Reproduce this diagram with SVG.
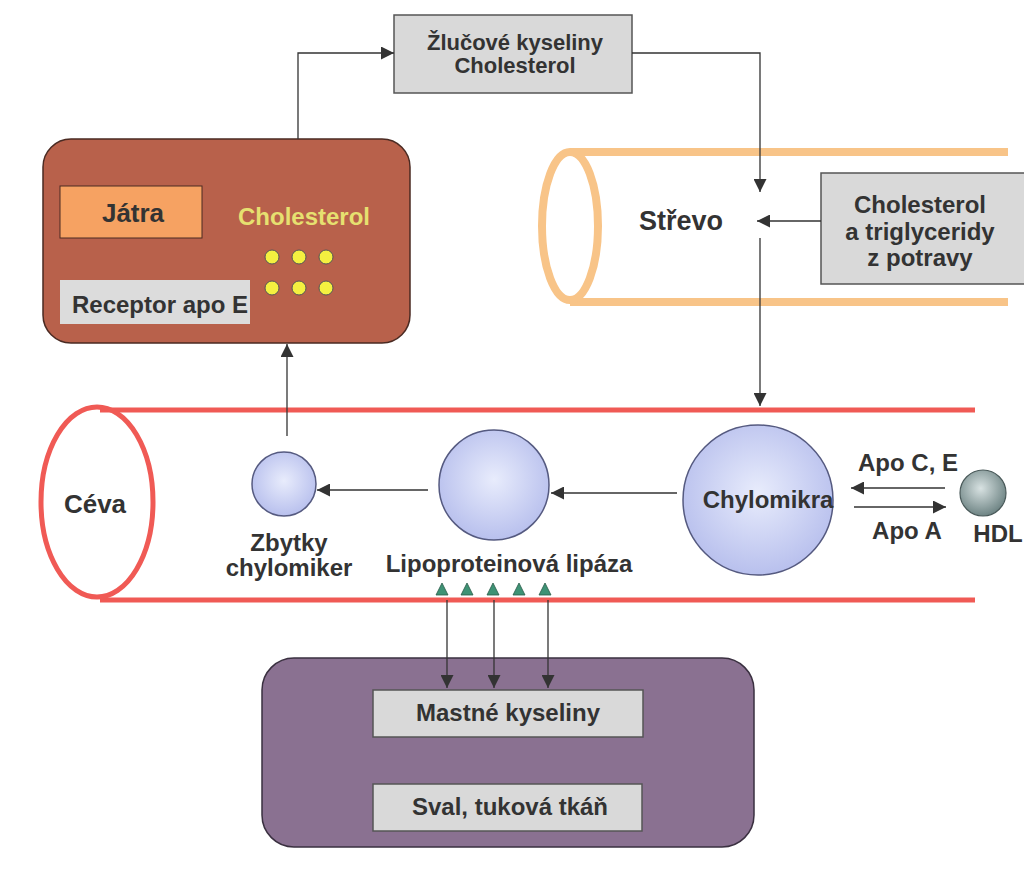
<svg xmlns="http://www.w3.org/2000/svg" width="1024" height="869" viewBox="0 0 1024 869">
<defs>
<style>
text{font-family:"Liberation Sans",Arial,sans-serif;font-weight:bold;fill:#333;font-size:24px;text-anchor:middle}
.conn{stroke:#333;stroke-width:1.3;fill:none}
.gbox{fill:#d9d9d9;stroke:#555;stroke-width:1.5}
.tube{fill:none;stroke:#f8c488;stroke-width:8}
.vessel{fill:none;stroke:#f05a55;stroke-width:5}
.ball{fill:url(#blue);stroke:#555a80;stroke-width:1.5}
.dot{fill:#f4f040;stroke:#555;stroke-width:1}
.tri{fill:#3e9275;stroke:#2a5a48;stroke-width:0.8}
</style>
<radialGradient id="blue" cx="0.5" cy="0.45" r="0.6"><stop offset="0" stop-color="#e8ecfc"/><stop offset="1" stop-color="#b4bcec"/></radialGradient>
<radialGradient id="hdl" cx="0.45" cy="0.4" r="0.6"><stop offset="0" stop-color="#d8e2e2"/><stop offset="1" stop-color="#6e8484"/></radialGradient>
<marker id="ah" viewBox="0 0 10 10" refX="10" refY="5" markerWidth="15" markerHeight="13" markerUnits="userSpaceOnUse" orient="auto"><path d="M0,0 L10,5 L0,10 z" fill="#333"/></marker>
</defs>
<rect width="1024" height="869" fill="#fff"/>

<g id="intestine">
<line class="tube" x1="570" y1="152" x2="1008" y2="152"/>
<line class="tube" x1="570" y1="302" x2="1008" y2="302"/>
<ellipse class="tube" cx="570" cy="226" rx="28" ry="74" fill="#fff"/>
<text x="681" y="230" style="font-size:27px">Střevo</text>
</g>

<g id="vessel">
<line class="vessel" x1="100" y1="410" x2="975" y2="410"/>
<line class="vessel" x1="100" y1="600" x2="975" y2="600"/>
<ellipse class="vessel" cx="97" cy="502" rx="56" ry="95" fill="#fff"/>
<text x="95" y="513" style="font-size:26px">Céva</text>
</g>

<g id="liver">
<rect x="43" y="139" width="367" height="204" rx="28" fill="#b8614b" stroke="#4a2a22" stroke-width="1.5"/>
<rect x="60" y="186" width="142" height="52" fill="#f6a262" stroke="#4a2a22" stroke-width="1"/>
<text x="133" y="222" style="font-size:26px">Játra</text>
<rect x="60" y="280" width="190" height="44" fill="#dcdcdc"/>
<text x="160" y="313">Receptor apo E</text>
<text x="304" y="225" style="fill:#e6e070">Cholesterol</text>
<circle class="dot" cx="272" cy="257" r="7"/><circle class="dot" cx="299" cy="257" r="7"/><circle class="dot" cx="326" cy="257" r="7"/>
<circle class="dot" cx="272" cy="288" r="7"/><circle class="dot" cx="299" cy="288" r="7"/><circle class="dot" cx="326" cy="288" r="7"/>
</g>

<g id="bile">
<rect class="gbox" x="394" y="15" width="238" height="78"/>
<text x="515" y="50" style="font-size:22px">Žlučové kyseliny</text>
<text x="515" y="73" style="font-size:22px">Cholesterol</text>
</g>

<g id="food">
<rect class="gbox" x="821" y="173" width="210" height="111"/>
<text x="920" y="213">Cholesterol</text>
<text x="920" y="240">a triglyceridy</text>
<text x="920" y="266">z potravy</text>
</g>

<g id="chylomicron">
<circle class="ball" cx="758" cy="500" r="75"/>
<text x="768" y="508">Chylomikra</text>
</g>
<g id="lipo">
<circle class="ball" cx="494" cy="485" r="55"/>
<text x="509" y="572">Lipoproteinová lipáza</text>
<path class="tri" d="M436,595 L442,583 L448,595 z"/>
<path class="tri" d="M461,595 L467,583 L473,595 z"/>
<path class="tri" d="M487,595 L493,583 L499,595 z"/>
<path class="tri" d="M513,595 L519,583 L525,595 z"/>
<path class="tri" d="M539,595 L545,583 L551,595 z"/>
</g>
<g id="remnant">
<circle class="ball" cx="284" cy="484" r="32"/>
<text x="289" y="551">Zbytky</text>
<text x="289" y="576">chylomiker</text>
</g>
<g id="hdl-node">
<circle cx="983" cy="493" r="23" fill="url(#hdl)" stroke="#4a5a5a" stroke-width="1.2"/>
<text x="998" y="542">HDL</text>
</g>
<g id="tissue">
<rect x="262" y="658" width="492" height="189" rx="32" fill="#8a7191" stroke="#3a3040" stroke-width="1.5"/>
<rect class="gbox" x="373" y="690" width="270" height="47"/>
<text x="508" y="721">Mastné kyseliny</text>
<rect class="gbox" x="373" y="784" width="269" height="47"/>
<text x="510" y="815">Sval, tuková tkáň</text>
</g>

<g id="connectors">
<polyline class="conn" points="298,139 298,53 394,53" marker-end="url(#ah)"/>
<polyline class="conn" points="632,53 760,53 760,192" marker-end="url(#ah)"/>
<line class="conn" x1="821" y1="221" x2="757" y2="221" marker-end="url(#ah)"/>
<line class="conn" x1="760" y1="238" x2="760" y2="406" marker-end="url(#ah)"/>
<line class="conn" x1="677" y1="493" x2="551" y2="493" marker-end="url(#ah)"/>
<line class="conn" x1="428" y1="490" x2="317" y2="490" marker-end="url(#ah)"/>
<line class="conn" x1="287" y1="436" x2="287" y2="344" marker-end="url(#ah)"/>
<line class="conn" x1="945" y1="488" x2="851" y2="488" marker-end="url(#ah)"/>
<line class="conn" x1="854" y1="507" x2="946" y2="507" marker-end="url(#ah)"/>
<text x="908" y="471">Apo C, E</text>
<text x="907" y="539">Apo A</text>
<line class="conn" x1="447" y1="600" x2="447" y2="688" marker-end="url(#ah)"/>
<line class="conn" x1="494" y1="600" x2="494" y2="688" marker-end="url(#ah)"/>
<line class="conn" x1="548" y1="600" x2="548" y2="688" marker-end="url(#ah)"/>
</g>
</svg>
